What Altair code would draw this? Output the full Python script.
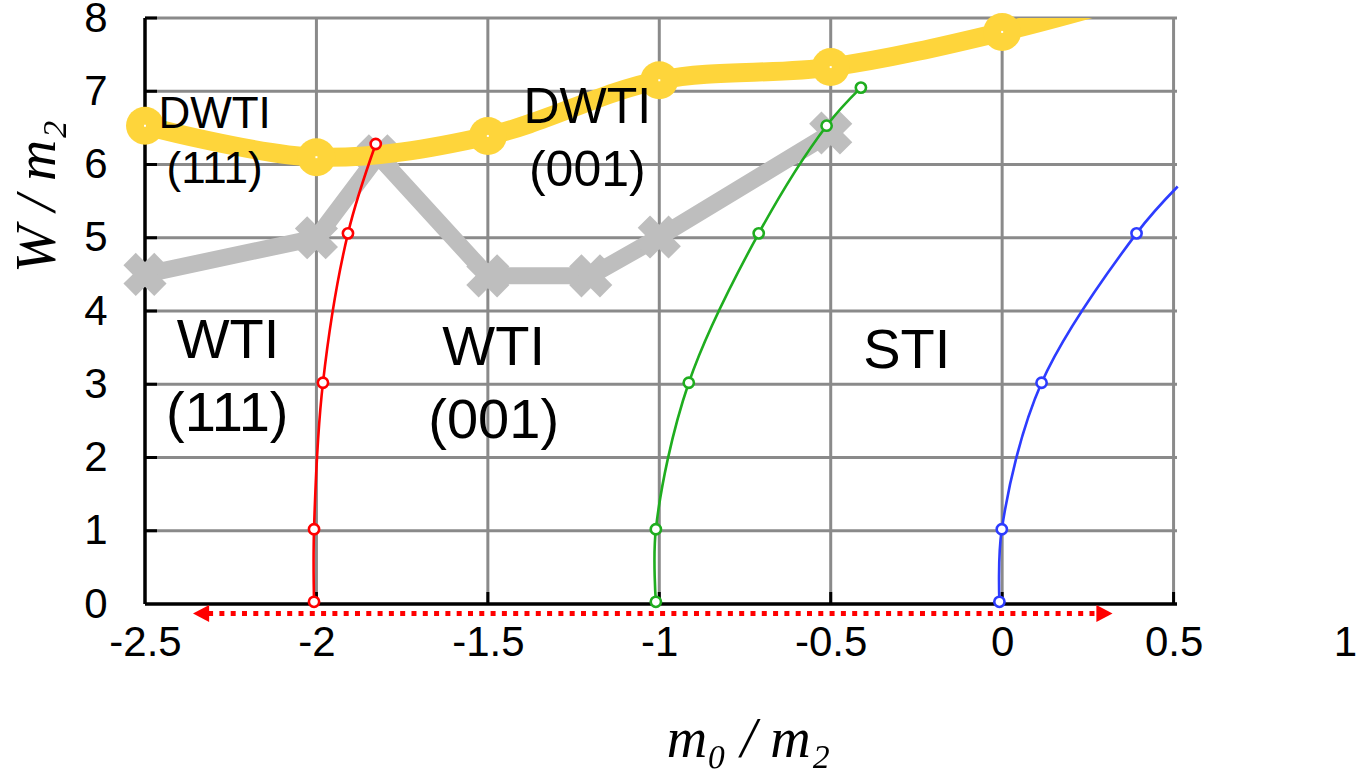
import altair as alt
import pandas as pd

# ---------------- data ----------------
X_TICKS = [-2.5, -2.0, -1.5, -1.0, -0.5, 0.0, 0.5, 1.0]
Y_TICKS = [0, 1, 2, 3, 4, 5, 6, 7, 8]
GRID_X = [-2.0, -1.5, -1.0, -0.5, 0.0, 0.5]
GRID_Y = [1, 2, 3, 4, 5, 6, 7, 8]
X_MIN, X_MAX, X_PLOT_END = -2.5, 1.0, 0.51
Y_MIN, Y_MAX = 0, 8

# DWTI boundary (yellow, thick)
yel_x = [-2.5, -2.0, -1.5, -1.0, -0.5, 0.0, 0.5]
yel_w = [6.53, 6.10, 6.39, 7.15, 7.33, 7.81, 8.45]
yel_mk = [1, 1, 1, 1, 1, 1, 0]

# WTI(111)/(001) boundary (gray, crosses)
gray_x = [-2.5, -2.0, -1.82, -1.5, -1.2, -1.0, -0.5]
gray_w = [4.50, 5.00, 6.12, 4.48, 4.48, 5.01, 6.43]

# thin curves with open circles
red_x = [-2.007, -2.007, -1.981, -1.908, -1.827]
red_w = [0.03, 1.02, 3.02, 5.06, 6.28]
green_x = [-1.010, -1.010, -0.914, -0.710, -0.512, -0.412]
green_w = [0.03, 1.02, 3.02, 5.06, 6.53, 7.05]
blue_x = [-0.008, -0.001, 0.115, 0.392, 0.512]
blue_w = [0.03, 1.02, 3.02, 5.06, 5.70]
blue_mk = [1, 1, 1, 1, 0]

# region labels
lbl1_text = ["DWTI", "(111)"]
lbl1_x = [-2.297, -2.297]
lbl1_w = [6.68, 5.93]
lbl2_text = ["DWTI", "(001)"]
lbl2_x = [-1.210, -1.210]
lbl2_w = [6.77, 5.91]
lbl3_text = ["WTI", "(111)", "WTI", "(001)", "STI"]
lbl3_x = [-2.258, -2.260, -1.483, -1.483, -0.278]
lbl3_w = [3.59, 2.59, 3.49, 2.50, 3.45]

# red dotted double arrow below the axis
arrow_w = -0.13
arrow_left_tip, arrow_right_tip = -2.360, 0.322
arrow_left_base, arrow_right_base = -2.316, 0.276

# ---------------- chart ----------------
xscale = alt.Scale(domain=[X_MIN, X_MAX], nice=False, zero=False)
yscale = alt.Scale(domain=[Y_MIN, Y_MAX], nice=False, zero=False)

LBL_FONT = "Liberation Sans"
TTL_FONT = "Liberation Serif"
GRID_COLOR = "#8a8a8a"
X_TITLE = "m₀ / m₂"
Y_TITLE = "W / m₂"

xaxis = alt.Axis(values=X_TICKS, labelExpr="datum.value + ''", grid=False, domain=False,
                 ticks=False, tickSize=0, labelPadding=18, labelFont=LBL_FONT,
                 labelFontSize=42, labelColor="black", labelFlush=False, labelOverlap=False,
                 title=X_TITLE, titleFont=TTL_FONT, titleFontStyle="italic",
                 titleFontWeight="normal", titleFontSize=56, titleColor="black",
                 titleX=603, titleY=135, titleAlign="center", titleBaseline="middle")
yaxis = alt.Axis(values=Y_TICKS, labelExpr="datum.value + ''", grid=False, domain=False,
                 ticks=False, tickSize=0, labelPadding=38, labelFont=LBL_FONT,
                 labelFontSize=42, labelColor="black", labelFlush=False, labelOverlap=False,
                 title=Y_TITLE, titleFont=TTL_FONT, titleFontStyle="italic",
                 titleFontWeight="normal", titleFontSize=57, titleColor="black",
                 titleX=-108, titleY=178, titleAngle=270, titleAlign="center",
                 titleBaseline="middle")


def X(f):
    return alt.X(f, scale=xscale, axis=xaxis, title=X_TITLE)


def Y(f):
    return alt.Y(f, scale=yscale, axis=yaxis, title=Y_TITLE)


gv = pd.DataFrame({"x": GRID_X, "y0": [Y_MIN] * len(GRID_X), "y1": [Y_MAX] * len(GRID_X)})
grid_v = alt.Chart(gv).mark_rule(color=GRID_COLOR, strokeWidth=3).encode(
    x=X("x:Q"), y=Y("y0:Q"), y2="y1:Q")
gh = pd.DataFrame({"y": GRID_Y, "x0": [X_MIN] * len(GRID_Y), "x1": [X_PLOT_END] * len(GRID_Y)})
grid_h = alt.Chart(gh).mark_rule(color=GRID_COLOR, strokeWidth=3).encode(
    x=X("x0:Q"), x2="x1:Q", y=Y("y:Q"))

frame_df = pd.DataFrame({"x0": [X_MIN, X_MIN], "x1": [X_MIN, X_PLOT_END],
                         "y0": [Y_MIN, Y_MIN], "y1": [Y_MAX, Y_MIN]})
frame = alt.Chart(frame_df).mark_rule(color="black", strokeWidth=3.5).encode(
    x=X("x0:Q"), x2="x1:Q", y=Y("y0:Q"), y2="y1:Q")

bt = pd.DataFrame({"x": GRID_X, "y": [Y_MIN] * len(GRID_X)})
bottom_ticks = alt.Chart(bt).mark_tick(orient="vertical", size=12, thickness=3,
                                       yOffset=-6, color="black", opacity=1).encode(
    x=X("x:Q"), y=Y("y:Q"))
lt = pd.DataFrame({"y": GRID_Y, "x": [X_MIN] * len(GRID_Y)})
left_ticks = alt.Chart(lt).mark_tick(orient="horizontal", size=12, thickness=3,
                                     xOffset=6, color="black", opacity=1).encode(
    x=X("x:Q"), y=Y("y:Q"))


def df(xs, ws, mk=None):
    return pd.DataFrame({"x": xs, "w": ws, "i": list(range(len(xs))),
                         "mk": mk if mk is not None else [1] * len(xs)})


gray_df = df(gray_x, gray_w)
gray_line = alt.Chart(gray_df).mark_line(color="#bebebe", strokeWidth=17).encode(
    x=X("x:Q"), y=Y("w:Q"), order="i:Q")
gray_pts = alt.Chart(gray_df).mark_point(shape="cross", angle=45, filled=True,
                                         color="#bebebe", size=1900, opacity=1).encode(
    x=X("x:Q"), y=Y("w:Q"))

yel_df = df(yel_x, yel_w, yel_mk)
YEL = "#fed53b"
yel_line = alt.Chart(yel_df).mark_line(color=YEL, strokeWidth=19, clip=True,
                                       interpolate="catmull-rom").encode(
    x=X("x:Q"), y=Y("w:Q"), order="i:Q")
yel_pts = alt.Chart(yel_df).transform_filter("datum.mk == 1").mark_point(
    shape="circle", filled=True, color=YEL, size=1440, opacity=1).encode(
    x=X("x:Q"), y=Y("w:Q"))
yel_dot = alt.Chart(yel_df).transform_filter("datum.mk == 1").mark_point(
    shape="square", filled=True, color="white", size=4, opacity=1).encode(
    x=X("x:Q"), y=Y("w:Q"))


def thin(xs, ws, color, mk=None):
    d = df(xs, ws, mk)
    line = alt.Chart(d).mark_line(color=color, strokeWidth=2.6,
                                  interpolate="catmull-rom").encode(
        x=X("x:Q"), y=Y("w:Q"), order="i:Q")
    pts = alt.Chart(d).transform_filter("datum.mk == 1").mark_point(
        shape="circle", filled=True, fill="white", stroke=color, strokeWidth=2.6,
        size=105, opacity=1).encode(x=X("x:Q"), y=Y("w:Q"))
    return line + pts


red = thin(red_x, red_w, "#ff0000")
green = thin(green_x, green_w, "#1fad1f")
blue = thin(blue_x, blue_w, "#2d3cff", blue_mk)


def labels(texts, xs, ws, size):
    d = pd.DataFrame({"x": xs, "w": ws, "t": texts})
    return alt.Chart(d).mark_text(font=LBL_FONT, fontSize=size, color="black",
                                  align="center", baseline="middle").encode(
        x=X("x:Q"), y=Y("w:Q"), text="t:N")


lbl1 = labels(lbl1_text, lbl1_x, lbl1_w, 44)
lbl2 = labels(lbl2_text, lbl2_x, lbl2_w, 50)
lbl3 = labels(lbl3_text, lbl3_x, lbl3_w, 56)

arr_df = pd.DataFrame({"x0": [arrow_left_base], "x1": [arrow_right_base], "w": [arrow_w]})
arrow_line = alt.Chart(arr_df).mark_rule(color="#ff0000", strokeWidth=5,
                                         strokeDash=[5, 6.3]).encode(
    x=X("x0:Q"), x2="x1:Q", y=Y("w:Q"))
head_l = alt.Chart(pd.DataFrame({"x": [arrow_left_tip], "w": [arrow_w]})).mark_point(
    shape="M0,0L1.9,-1L1.9,1Z", filled=True, color="#ff0000", size=289, opacity=1).encode(
    x=X("x:Q"), y=Y("w:Q"))
head_r = alt.Chart(pd.DataFrame({"x": [arrow_right_tip], "w": [arrow_w]})).mark_point(
    shape="M0,0L-1.9,-1L-1.9,1Z", filled=True, color="#ff0000", size=289, opacity=1).encode(
    x=X("x:Q"), y=Y("w:Q"))

chart = alt.layer(
    grid_v, grid_h, frame, bottom_ticks, left_ticks,
    gray_line, gray_pts, yel_line, yel_pts, yel_dot,
    red, green, blue,
    lbl1, lbl2, lbl3,
    arrow_line, head_l, head_r,
).properties(
    width=1200, height=586,
    padding={"left": 145, "top": 18, "right": 12, "bottom": 166},
    autosize=alt.AutoSizeParams(type="none"),
    background="white",
).configure_view(stroke=None)

chart.save("out.html", embed_options={"renderer": "svg", "actions": False})
